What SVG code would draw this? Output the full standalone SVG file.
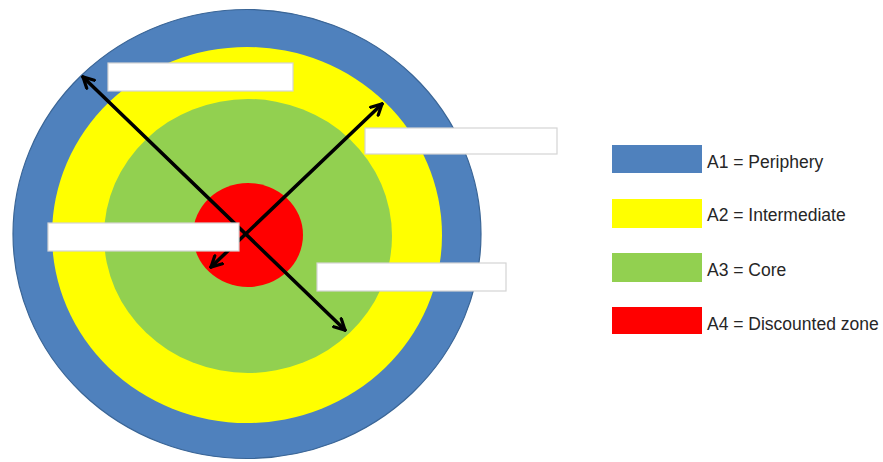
<svg xmlns="http://www.w3.org/2000/svg" width="883" height="462" viewBox="0 0 883 462">
<style>
.a1{fill:#4F81BD}
.a2{fill:#FFFF00}
.a3{fill:#92D050}
.a4{fill:#FF0000}
.box{fill:#FFFFFF;stroke:#D4D4D4;stroke-width:1.2}
.conn{stroke:#000;stroke-width:3.5;fill:none;stroke-linecap:round}
.lbl{font-family:"Liberation Sans",Arial,sans-serif;font-size:17.5px;fill:#262626}
</style>
<defs>
<marker id="arr" viewBox="0 0 14 14" refX="12" refY="7" markerWidth="14" markerHeight="14" markerUnits="userSpaceOnUse" orient="auto-start-reverse">
<path d="M1.5,1.5 L12,7 L1.5,12.5" fill="none" stroke="#000" stroke-width="3.2" stroke-linejoin="miter" stroke-linecap="round"/>
</marker>
</defs>
<rect width="883" height="462" fill="#FFFFFF"/>
<g id="zone-a1"><ellipse class="a1" cx="247" cy="234" rx="234" ry="224.5" stroke="#3A6596" stroke-width="1.2"/></g>
<g id="zone-a2"><ellipse class="a2" cx="247" cy="235" rx="195" ry="188"/></g>
<g id="zone-a3"><ellipse class="a3" cx="248" cy="236" rx="144" ry="137"/></g>
<g id="zone-a4"><ellipse class="a4" cx="248" cy="235" rx="55" ry="52"/></g>
<g id="connectors">
<line class="conn" x1="83" y1="77" x2="345" y2="330" marker-start="url(#arr)" marker-end="url(#arr)"/>
<line class="conn" x1="382" y1="104" x2="211" y2="267" marker-start="url(#arr)" marker-end="url(#arr)"/>
</g>
<g id="box1"><rect class="box" x="108" y="63" width="185" height="28"/></g>
<g id="box2"><rect class="box" x="365" y="128" width="192" height="26"/></g>
<g id="box3"><rect class="box" x="317" y="263" width="189" height="28"/></g>
<g id="box4"><rect class="box" x="48" y="223" width="191" height="28"/></g>
<g id="legend-a1"><rect class="a1" x="612" y="145" width="90" height="28"/><text class="lbl" x="707" y="168">A1 = Periphery</text></g>
<g id="legend-a2"><rect class="a2" x="612" y="199" width="90" height="29"/><text class="lbl" x="707" y="221">A2 = Intermediate</text></g>
<g id="legend-a3"><rect class="a3" x="612" y="253" width="90" height="29"/><text class="lbl" x="707" y="276">A3 = Core</text></g>
<g id="legend-a4"><rect class="a4" x="612" y="307" width="90" height="27"/><text class="lbl" x="707" y="330">A4 = Discounted zone</text></g>
</svg>
